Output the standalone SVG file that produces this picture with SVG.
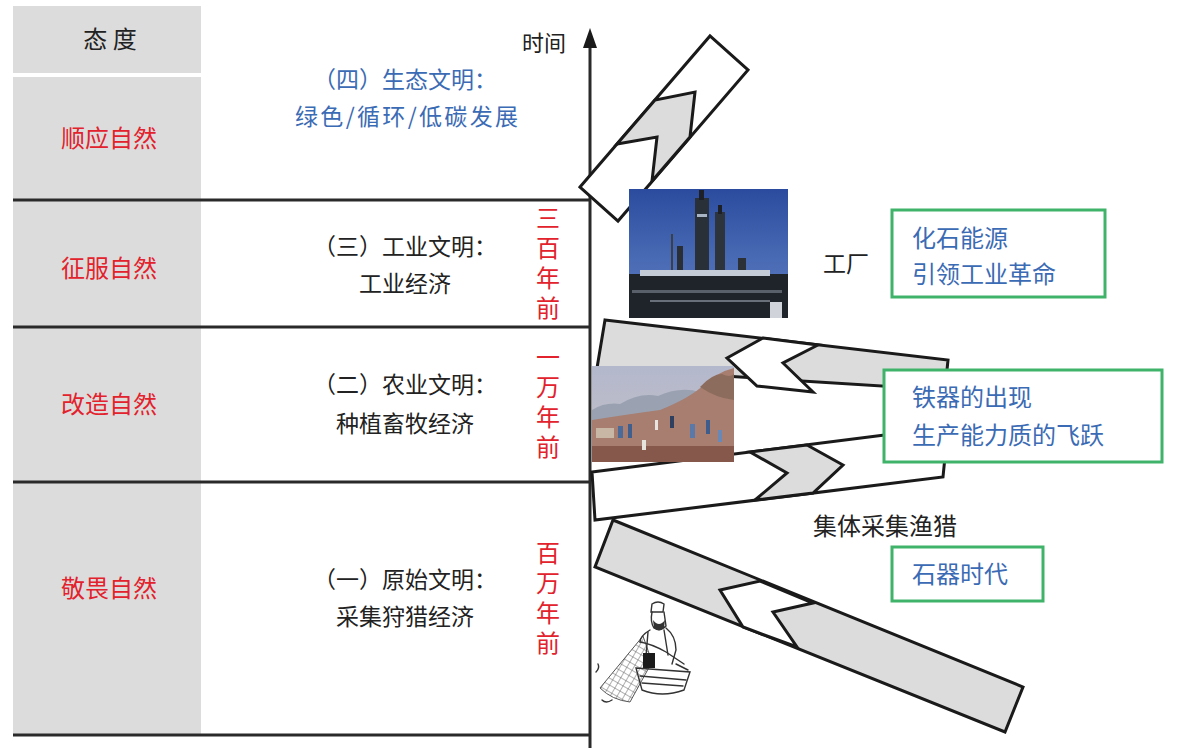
<svg xmlns="http://www.w3.org/2000/svg" width="1182" height="748" viewBox="0 0 1182 748">
<style>
text{font-family:"Noto Sans CJK SC","Noto Sans CJK TC",sans-serif;}
.red{fill:#e2222c;font-size:24px;}
.vert{writing-mode:vertical-rl;letter-spacing:6px;}
.blk{fill:#222;font-size:23px;}
.blue{fill:#3b6bb4;font-size:23px;}
.bx{fill:#3b6bb4;font-size:24px;}
.cell{fill:#dcdcdc;}
.rule{stroke:#2a2a2a;stroke-width:3;fill:none;}
.band{stroke:#1a1a1a;stroke-width:3;stroke-linejoin:miter;}
.g{fill:#dcdcdc;}
.w{fill:#ffffff;}
.gbox{fill:#fff;stroke:#3fb36a;stroke-width:3;}
.sk{fill:none;stroke:#333;stroke-width:1.4;stroke-linecap:round;}
</style>
<defs>
<linearGradient id="sky1" x1="0" y1="0" x2="0" y2="1">
<stop offset="0" stop-color="#2b4c9e"/><stop offset="1" stop-color="#6283c6"/>
</linearGradient>
<linearGradient id="sky2" x1="0" y1="0" x2="0" y2="1">
<stop offset="0" stop-color="#b3b8cc"/><stop offset="1" stop-color="#c6c0c6"/>
</linearGradient>
<pattern id="net" width="6" height="6" patternUnits="userSpaceOnUse" patternTransform="rotate(30)">
<path d="M0,0 L0,6 M0,0 L6,0" stroke="#555" stroke-width="0.9" fill="none"/>
</pattern>
</defs>
<rect width="1182" height="748" fill="#ffffff"/>

<g id="col-attitude">
<rect class="cell" x="13" y="6" width="188" height="67"/>
<rect class="cell" x="13" y="77" width="188" height="658"/>
<text class="blk" x="110" y="48" text-anchor="middle" style="font-size:24px">态 度</text>
</g>

<g id="axis-connectors">
<line class="rule" x1="13" y1="200" x2="590" y2="200"/>
<line class="rule" x1="13" y1="327" x2="590" y2="327"/>
<line class="rule" x1="13" y1="482" x2="590" y2="482"/>
<line class="rule" x1="13" y1="735" x2="590" y2="735"/>
<line class="rule" x1="590" y1="748" x2="590" y2="44"/>
<polygon points="590,28 583,48 597,48" fill="#1a1a1a"/>
<text class="blk" x="544" y="51" text-anchor="middle" style="font-size:22px">时间</text>
</g>

<g id="era-4">
<text class="red" x="109" y="147" text-anchor="middle">顺应自然</text>
<text class="blue" x="405" y="88" text-anchor="middle">（四）生态文明：</text>
<text class="blue" x="295" y="125" textLength="223" lengthAdjust="spacing">绿色/循环/低碳发展</text>
</g>

<g id="era-3">
<text class="red" x="109" y="277" text-anchor="middle">征服自然</text>
<text class="blk" x="405" y="255" text-anchor="middle">（三）工业文明：</text>
<text class="blk" x="405" y="292" text-anchor="middle">工业经济</text>
<text class="red vert" x="548" y="206">三百年前</text>
</g>

<g id="era-2">
<text class="red" x="109" y="413" text-anchor="middle">改造自然</text>
<text class="blk" x="405" y="393" text-anchor="middle">（二）农业文明：</text>
<text class="blk" x="405" y="432" text-anchor="middle">种植畜牧经济</text>
<text class="red vert" x="548" y="345">一万年前</text>
</g>

<g id="era-1">
<text class="red" x="109" y="597" text-anchor="middle">敬畏自然</text>
<text class="blk" x="405" y="588" text-anchor="middle">（一）原始文明：</text>
<text class="blk" x="405" y="625" text-anchor="middle">采集狩猎经济</text>
<text class="red vert" x="548" y="541">百万年前</text>
</g>

<g id="band-top">
<polygon class="band w" points="580,187 710,36 748,70 618,221"/>
<polygon class="band g" points="617,144 655,100 695,92 690,137 652,181 657,137"/>
</g>

<g id="photo-factory">
<rect x="629" y="189" width="159" height="129" fill="url(#sky1)"/>
<rect x="695" y="198" width="14" height="120" fill="#2a3038"/>
<rect x="699" y="190" width="5" height="10" fill="#1d2026"/>
<rect x="697" y="214" width="10" height="3" fill="#a8b4c4"/>
<rect x="715" y="212" width="10" height="106" fill="#2e343c"/>
<rect x="718" y="205" width="4" height="9" fill="#1d2026"/>
<rect x="677" y="246" width="6" height="72" fill="#2a2f36"/>
<rect x="671" y="234" width="2" height="84" fill="#3a3f48"/>
<rect x="738" y="258" width="8" height="60" fill="#2c3138"/>
<rect x="629" y="274" width="159" height="44" fill="#1f232a"/>
<rect x="640" y="270" width="130" height="6" fill="#c4ccd8"/>
<rect x="632" y="290" width="150" height="3" fill="#5a606a"/>
<rect x="650" y="300" width="120" height="2" fill="#6a707a"/>
<rect x="770" y="302" width="12" height="16" fill="#d0d4da"/>
</g>
<text id="label-factory" class="blk" x="846" y="272" text-anchor="middle">工厂</text>

<g id="box-fossil">
<rect class="gbox" x="892" y="210" width="213" height="87"/>
<text class="bx" x="912" y="247">化石能源</text>
<text class="bx" x="912" y="283">引领工业革命</text>
</g>

<g id="band-middle">
<polygon class="band g" points="605,320 948,360 945,390 597,368"/>
<polygon class="band w" points="763,338 818,345 783,363 813,392 757,386 727,358"/>
<polygon class="band w" points="592,472 948,427 943,477 595,520"/>
<polygon class="band g" points="750,452 807,445 843,465 813,493 755,500 787,473"/>
</g>

<g id="photo-farm">
<rect x="592" y="366" width="142" height="96" fill="url(#sky2)"/>
<path d="M592,410 Q605,402 620,404 Q640,392 658,396 Q680,386 700,392 L734,380 L734,430 L592,430 Z" fill="#9aa2b2"/>
<path d="M592,462 L592,420 Q630,414 660,410 Q690,398 705,384 Q718,372 734,368 L734,462 Z" fill="#a77e70"/>
<path d="M700,387 Q712,374 722,374 Q730,378 734,374 L734,400 Q716,398 700,387 Z" fill="#8c6c5c"/>
<rect x="592" y="446" width="142" height="16" fill="#86584c"/>
<rect x="596" y="428" width="18" height="10" fill="#c9b7a6"/>
<rect x="618" y="426" width="5" height="12" fill="#4a6a9a"/>
<rect x="628" y="424" width="4" height="14" fill="#3f5f8f"/>
<rect x="655" y="420" width="3" height="10" fill="#e8e4e0"/>
<rect x="670" y="416" width="4" height="12" fill="#2f3f5f"/>
<rect x="690" y="424" width="5" height="14" fill="#5a78a8"/>
<rect x="706" y="420" width="4" height="14" fill="#3e5c8c"/>
<rect x="718" y="430" width="4" height="12" fill="#6a88b6"/>
<rect x="642" y="440" width="4" height="10" fill="#e6e2dc"/>
</g>

<g id="box-iron">
<rect class="gbox" x="884" y="370" width="278" height="92"/>
<text class="bx" x="912" y="406">铁器的出现</text>
<text class="bx" x="912" y="444">生产能力质的飞跃</text>
</g>

<text id="label-gather" class="blk" x="885" y="535" text-anchor="middle" style="font-size:24px">集体采集渔猎</text>

<g id="band-bottom">
<polygon class="band g" points="613,520 1023,687 1005,732 595,567"/>
<polygon class="band w" points="760,581 813,603 773,612 797,647 743,627 720,590"/>
</g>

<g id="box-stone">
<rect class="gbox" x="892" y="547" width="151" height="54"/>
<text class="bx" x="912" y="583">石器时代</text>
</g>

<g id="fisherman">
<path d="M643,636 L600,688 Q612,700 630,702 L652,662 Z" fill="url(#net)" stroke="#555" stroke-width="1"/>
<path class="sk" d="M652,604 Q658,600 664,604 L663,612 L651,612 Z" fill="#222"/>
<path class="sk" d="M652,612 Q650,622 654,628 Q660,632 666,626 L664,612"/>
<path d="M653,620 Q659,628 665,620 L664,628 Q659,633 654,628 Z" fill="#333"/>
<path class="sk" d="M650,630 Q640,636 640,642 M666,628 Q676,636 676,650 L672,664"/>
<path class="sk" d="M648,632 L646,656 M664,630 L668,655"/>
<path class="sk" d="M640,642 Q652,644 666,652 L684,664"/>
<rect x="643" y="653" width="12" height="15" fill="#1a1a1a"/>
<path class="sk" d="M636,668 L690,672 L684,690 Q662,698 642,690 Z" fill="#f4f4f4"/>
<path class="sk" d="M640,676 L686,680 M642,683 L683,686"/>
<path class="sk" d="M676,664 L688,670"/>
<path class="sk" d="M596,672 Q600,668 598,664 M602,700 Q606,704 612,700"/>
</g>
</svg>
